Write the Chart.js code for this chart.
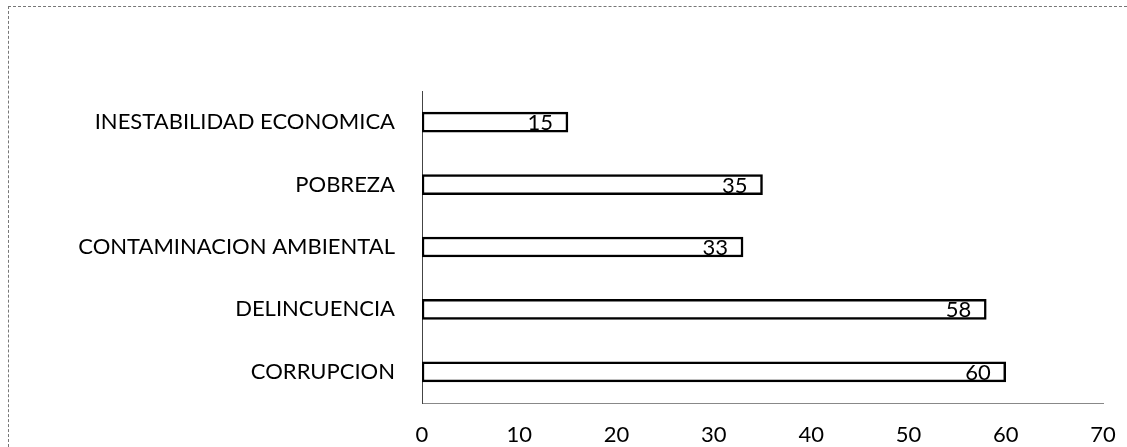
<!DOCTYPE html>
<html>
<head>
  <meta charset="utf-8">
  <title>Problemas</title>
  <script src="https://cdn.jsdelivr.net/npm/chart.js@4.4.1/dist/chart.umd.min.js"></script>
  <style>
    html, body { margin: 0; padding: 0; background: #fff; }
    #wrap { position: relative; width: 1127px; height: 447px; }
    #frame {
      position: absolute; left: 8px; top: 6px; right: 0; bottom: 0;
      border-top: 1px dashed #777; border-left: 1px dashed #777;
      pointer-events: none;
    }
  </style>
</head>
<body>
  <div id="wrap">
    <canvas id="chart" width="1127" height="447"></canvas>
    <div id="frame"></div>
  </div>

  <script>
    // datos
    const categorias = ['INESTABILIDAD ECONOMICA', 'POBREZA', 'CONTAMINACION AMBIENTAL', 'DELINCUENCIA', 'CORRUPCION'];
    const valores = [15, 35, 33, 58, 60];
    const ejeMin = 0;
    const ejeMax = 70;
    const ejePaso = 10;

    const fuente = 'Lato, "Open Sans", sans-serif';

    // etiquetas de valor dentro del extremo de cada barra
    const etiquetasValor = {
      id: 'etiquetasValor',
      afterDatasetsDraw(chart) {
        const ctx = chart.ctx;
        const meta = chart.getDatasetMeta(0);
        ctx.save();
        ctx.font = '22px ' + fuente;
        ctx.fillStyle = '#000';
        ctx.textAlign = 'right';
        ctx.textBaseline = 'middle';
        meta.data.forEach((bar, i) => {
          ctx.fillText(String(valores[i]), bar.x - 15, bar.y + 1);
        });
        ctx.restore();
      }
    };

    new Chart(document.getElementById('chart'), {
      type: 'bar',
      data: {
        labels: categorias,
        datasets: [{
          data: valores,
          backgroundColor: '#fff',
          borderColor: '#000',
          borderWidth: 2.5,
          borderSkipped: false,
          barThickness: 20
        }]
      },
      options: {
        indexAxis: 'y',
        responsive: false,
        animation: false,
        layout: { padding: { top: 91, right: 24, left: 0, bottom: 0 } },
        plugins: {
          legend: { display: false },
          tooltip: { enabled: false }
        },
        scales: {
          x: {
            min: ejeMin,
            max: ejeMax,
            // las marcas no se dibujan (grid oculto), solo separan las etiquetas del eje
            grid: { display: false, drawTicks: true, tickLength: 19 },
            border: { display: true, color: '#888', width: 1, dash: [4, 3] },
            ticks: {
              stepSize: ejePaso,
              padding: 0,
              color: '#000',
              font: { family: fuente, size: 22 }
            },
            afterFit(scale) { scale.height = 44; }
          },
          y: {
            grid: { display: false, drawTicks: false },
            border: { display: true, color: '#444', width: 1 },
            ticks: {
              padding: 27,
              color: '#000',
              font: { family: fuente, size: 22 }
            },
            afterFit(scale) { scale.width = 422; }
          }
        }
      },
      plugins: [etiquetasValor]
    });
  </script>
</body>
</html>
